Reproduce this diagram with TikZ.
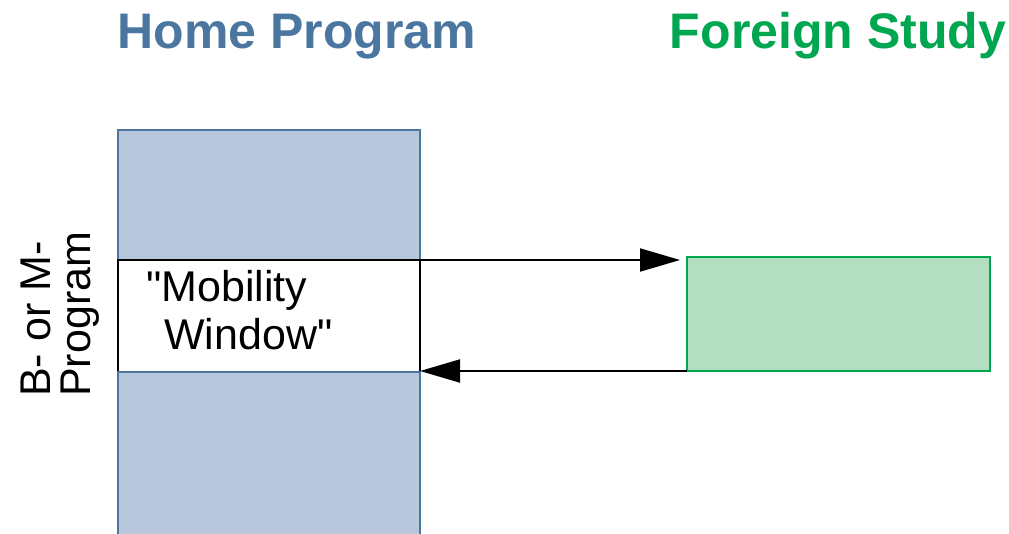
\documentclass[tikz,border=0pt]{standalone}
\usepackage{fontspec}
\setmainfont{Liberation Sans}
\newfontfamily\plainfont{Liberation Sans}
\usetikzlibrary{arrows.meta}
\definecolor{homeblue}{HTML}{4A76A0}
\definecolor{homefill}{HTML}{B8C7DB}
\definecolor{forgreen}{HTML}{00A650}
\definecolor{forfill}{HTML}{B3DEC1}
\tikzset{
  title/.style={font=\fontsize{50}{60}\selectfont\bfseries, inner sep=0pt, anchor=base},
  body/.style={font=\plainfont\fontsize{43}{50}\selectfont, inner sep=0pt, anchor=base west},
  homebox/.style={draw=homeblue, fill=homefill, line width=1.5pt, inner sep=0pt, outer sep=0pt, anchor=north west, minimum width=302pt},
  windowbox/.style={draw=black, fill=white, line width=1.5pt, inner sep=0pt, outer sep=0pt, anchor=north west, minimum width=302pt},
  foreignbox/.style={draw=forgreen, fill=forfill, line width=1.5pt, inner sep=0pt, outer sep=0pt, anchor=north west, minimum width=303pt, minimum height=114pt},
  flow/.style={draw=black, line width=2pt, -{Triangle[length=40pt,width=23pt]}},
}
\begin{document}
\begin{tikzpicture}[x=1pt, y=-1pt]
\useasboundingbox (0,0) rectangle (1009,533);
% titles
\node[title, text=homeblue] (hometitle) at (297,48) {Home Program};
\node[title, text=forgreen] (fortitle) at (838,48) {Foreign Study};
% home program column
\node[homebox, minimum height=130pt] (hometop) at (118,130) {};
\node[windowbox, minimum height=112pt] (window) at (118,260) {};
\node[homebox, minimum height=175pt] (homebot) at (118,372) {};
% window text
\node[body] (mob) at (146,301) {"Mobility};
\node[body] (win) at (164,349) {Window"};
% foreign box
\node[foreignbox] (foreign) at (687,257) {};
% side label
\node[body, rotate=90] (lab1) at (50,397) {B- or M-};
\node[body, rotate=90] (lab2) at (90,397) {Program};
% arrows
\draw[flow, shorten >=7pt] (window.north east) -- (window.north east -| foreign.west);
\draw[flow] (foreign.south west) -- (foreign.south west -| window.east);
\end{tikzpicture}
\end{document}
